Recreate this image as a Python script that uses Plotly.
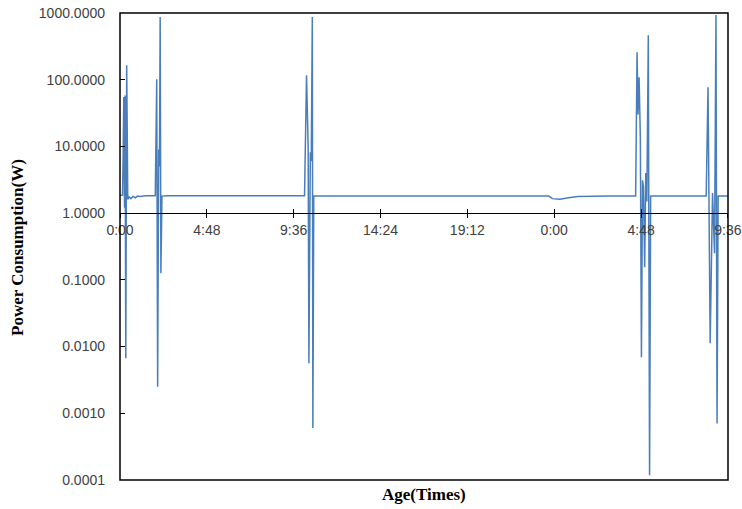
import plotly.graph_objects as go

# Time in hours from the start (0:00) and measured power (W)
hours = [0.00, 0.14, 0.17, 0.21, 0.25, 0.28, 0.32, 0.37, 0.43, 0.50, 0.60, 0.72, 0.85, 0.97, 1.10, 1.40, 1.95,
         2.03, 2.08, 2.14, 2.18, 2.22, 2.26, 2.32, 2.60, 4.00, 6.00, 8.00, 10.20,
         10.31, 10.40, 10.44, 10.52, 10.57, 10.63, 10.66, 10.71, 10.90, 13.00, 16.00, 19.00, 21.50,
         23.70, 23.90, 24.30, 24.80, 25.30, 27.00, 28.50,
         28.58, 28.63, 28.69, 28.76, 28.82, 28.88, 28.93, 29.00, 29.06, 29.12, 29.20, 29.27, 29.33,
         30.50, 32.40, 32.50, 32.62, 32.75, 32.86, 32.94, 33.00, 33.06, 33.60]
power = [1.85, 1.85, 6.2, 55.0, 1.2, 58.0, 0.0067, 165.0, 1.6, 1.75, 1.65, 1.78, 1.70, 1.80, 1.78, 1.82, 1.82,
         102.0, 0.0025, 9.0, 5.0, 870.0, 0.126, 1.80, 1.82, 1.83, 1.82, 1.82, 1.82,
         117.0, 10.0, 0.0056, 8.2, 6.0, 870.0, 0.0006, 1.80, 1.80, 1.79, 1.80, 1.79, 1.80,
         1.80, 1.65, 1.62, 1.70, 1.78, 1.80, 1.80,
         259.0, 30.0, 109.0, 13.8, 0.0069, 3.1, 2.5, 0.155, 4.0, 1.5, 465.0, 0.000118, 1.80,
         1.80, 1.80, 77.0, 0.0112, 2.0, 0.25, 930.0, 0.0007, 1.80, 1.80]

x_tickvals = [0.0, 4.8, 9.6, 14.4, 19.2, 24.0, 28.8, 33.6]
x_ticktext = ["0:00", "4:48", "9:36", "14:24", "19:12", "0:00", "4:48", "9:36"]
y_tickvals = [0.0001, 0.001, 0.01, 0.1, 1, 10, 100, 1000]
y_ticktext = ["%.4f" % v for v in y_tickvals]

line_color = "#4a7ebb"
tick_font = dict(family="Liberation Sans, Arial, sans-serif", size=14, color="#404040")
title_font = dict(family="Liberation Serif, Times New Roman, serif", size=17, color="black")

fig = go.Figure()
fig.add_trace(go.Scatter(x=hours, y=power, mode="lines",
                         line=dict(color=line_color, width=1.5),
                         showlegend=False, hoverinfo="skip"))
# invisible helper trace so that the overlay axis (upper half of cross ticks) is drawn
fig.add_trace(go.Scatter(x=hours, y=power, mode="lines", xaxis="x2",
                         line=dict(color="rgba(0,0,0,0)", width=0),
                         showlegend=False, hoverinfo="skip"))

x_pos = 4 / 7  # paper position of y = 1 on the log axis from 1e-4 to 1e3

fig.update_layout(
    width=742, height=509,
    margin=dict(l=120, r=14, t=13, b=29),
    paper_bgcolor="white", plot_bgcolor="white",
    xaxis=dict(range=[0, 33.605], tickvals=x_tickvals, ticktext=x_ticktext,
               anchor="free", position=x_pos, showline=True, linecolor="black", linewidth=1.3,
               ticks="outside", ticklen=4, tickwidth=1.3, tickcolor="black", automargin=False,
               showgrid=False, zeroline=False, tickfont=tick_font),
    xaxis2=dict(range=[0, 33.605], tickvals=x_tickvals, overlaying="x",
                anchor="free", position=x_pos, showline=False, automargin=False,
                ticks="inside", ticklen=4, tickwidth=1.3, tickcolor="black",
                showticklabels=False, showgrid=False, zeroline=False),
    yaxis=dict(type="log", range=[-4, 3], tickvals=y_tickvals, ticktext=y_ticktext,
               showline=False, ticks="inside", ticklen=5, tickwidth=1.3, tickcolor="black",
               ticklabelstandoff=14, showgrid=False, zeroline=False, tickfont=tick_font,
               automargin=False),
    shapes=[dict(type="rect", xref="paper", yref="paper", x0=0, x1=1, y0=0, y1=1,
                 line=dict(color="black", width=1.5), layer="above")],
    annotations=[
        dict(text="<b>Power Consumption(W)</b>", xref="paper", yref="paper", x=0, y=0.497,
             xshift=-102, textangle=-90, showarrow=False, font=title_font,
             xanchor="center", yanchor="middle"),
        dict(text="<b>Age(Times)</b>", xref="paper", yref="paper", x=0.5, y=0,
             yshift=-14, showarrow=False, font=title_font, xanchor="center", yanchor="middle"),
    ],
)

fig.write_html("out.html")
